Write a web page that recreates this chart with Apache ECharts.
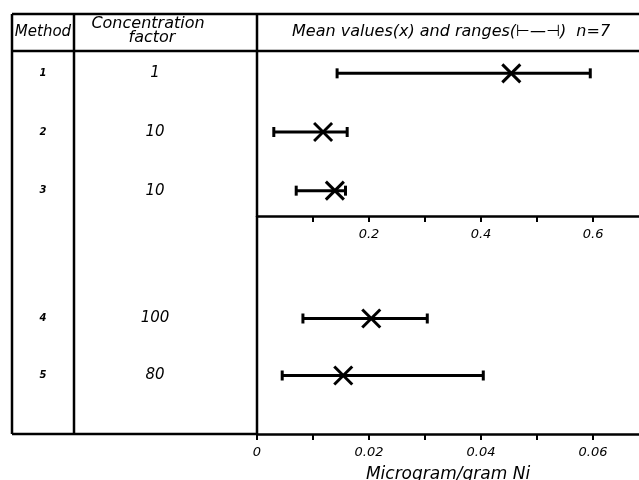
<!DOCTYPE html>
<html><head><meta charset="utf-8">
<script src="https://cdn.jsdelivr.net/npm/echarts@6/dist/echarts.min.js"></script>
<style>html,body{margin:0;padding:0;background:#fff}#c{width:639px;height:480px}</style>
</head><body><div id="c"></div>
<script>
const methods = ['1','2','3','4','5'];
const concFactors = ['1','10','10','100','80'];
const lowVals  = [0.143, 0.030, 0.070, 0.0082, 0.0045];
const highVals = [0.595, 0.161, 0.158, 0.0304, 0.0404];
const meanVals = [0.454, 0.118, 0.139, 0.0204, 0.0154];
const upperTickLabels = ['0.2','0.4','0.6'];
const lowerTickLabels = ['0','0.02','0.04','0.06'];
const headerMethod = 'Method';
const headerConc = ['Concentration','factor'];
const headerPlot = 'Mean values(x) and ranges(⊢—⊣)  n=7';
const axisTitle = 'Microgram/gram Ni';

const FONT = 'DejaVu Sans';
const upperIdx = [0,1,2], lowerIdx = [3,4];

function mkData(idx){ return idx.map(i => [lowVals[i], highVals[i], meanVals[i], methods[i]]); }

function renderItem(params, api){
  const cat = api.value(3);
  const pl = api.coord([api.value(0), cat]);
  const ph = api.coord([api.value(1), cat]);
  const pm = api.coord([api.value(2), cat]);
  const y = pl[1], cap = 5, m = 9;
  const st = {stroke:'#000', lineWidth:3};
  return {type:'group', children:[
    {type:'line', shape:{x1:pl[0],y1:y,x2:ph[0],y2:y}, style:st},
    {type:'line', shape:{x1:pl[0],y1:y-cap,x2:pl[0],y2:y+cap}, style:st},
    {type:'line', shape:{x1:ph[0],y1:y-cap,x2:ph[0],y2:y+cap}, style:st},
    {type:'line', shape:{x1:pm[0]-m,y1:y-m,x2:pm[0]+m,y2:y+m}, style:st},
    {type:'line', shape:{x1:pm[0]-m,y1:y+m,x2:pm[0]+m,y2:y-m}, style:st}
  ]};
}

const catAxisBase = {type:'category', position:'left', offset:0, inverse:true, axisLine:{show:false}, axisTick:{show:false}, splitLine:{show:false}};
function methodAxis(g, idx){
  return Object.assign({}, catAxisBase, {gridIndex:g, data: idx.map(i=>methods[i]),
    axisLabel:{margin:214, align:'center', fontFamily:FONT, fontStyle:'italic', fontWeight:'bold', fontSize:10, color:'#000', verticalAlign:'middle'}});
}
function concAxis(g, idx){
  return Object.assign({}, catAxisBase, {gridIndex:g, data: idx.map(i=>concFactors[i]),
    axisLabel:{margin:102, align:'center', fontFamily:FONT, fontStyle:'italic', fontSize:15, color:'#000', verticalAlign:'middle'}});
}

const chart = echarts.init(document.getElementById('c'), null, {renderer:'canvas'});
const tickStyle = {color:'#000', width:2};
chart.setOption({
  animation:false,
  grid:[
    {left:257, right:0, top:44, height:176, containLabel:false, outerBoundsMode:'none'},
    {left:257, right:0, top:290, height:114, containLabel:false, outerBoundsMode:'none'}
  ],
  xAxis:[
    {type:'value', gridIndex:0, min:0, max:0.682, interval:0.1, offset:-4,
     axisLine:{show:true, lineStyle:{color:'#000', width:2.5}},
     axisTick:{show:true, length:6, lineStyle:tickStyle},
     splitLine:{show:false},
     axisLabel:{showMaxLabel:false, margin:12, color:'#000', fontFamily:FONT, fontStyle:'italic', fontSize:13,
       formatter:v=>{const s=v.toFixed(1); return upperTickLabels.includes(s)?s:'';}}},
    {type:'value', gridIndex:1, min:0, max:0.0682, interval:0.01, offset:30,
     axisLine:{show:true, lineStyle:{color:'#000', width:2.5}},
     axisTick:{show:true, length:6, lineStyle:tickStyle},
     splitLine:{show:false},
     name:axisTitle, nameLocation:'middle', nameGap:32,
     nameTextStyle:{color:'#000', fontFamily:FONT, fontStyle:'italic', fontSize:17},
     axisLabel:{showMaxLabel:false, margin:12, color:'#000', fontFamily:FONT, fontStyle:'italic', fontSize:13,
       formatter:v=>{const s=v===0?'0':v.toFixed(2); return lowerTickLabels.includes(s)?s:'';}}}
  ],
  yAxis:[methodAxis(0, upperIdx), concAxis(0, upperIdx), methodAxis(1, lowerIdx), concAxis(1, lowerIdx)],
  series:[
    {type:'custom', xAxisIndex:0, yAxisIndex:0, renderItem, encode:{x:[0,1,2], y:3}, data:mkData(upperIdx)},
    {type:'custom', xAxisIndex:1, yAxisIndex:2, renderItem, encode:{x:[0,1,2], y:3}, data:mkData(lowerIdx)}
  ],
  graphic:[
    {type:'line', shape:{x1:12,y1:14,x2:639,y2:14}, style:{stroke:'#000', lineWidth:2.5}},
    {type:'line', shape:{x1:12,y1:51,x2:639,y2:51}, style:{stroke:'#000', lineWidth:2.5}},
    {type:'line', shape:{x1:12,y1:14,x2:12,y2:434}, style:{stroke:'#000', lineWidth:2.5}},
    {type:'line', shape:{x1:74,y1:14,x2:74,y2:434}, style:{stroke:'#000', lineWidth:2.5}},
    {type:'line', shape:{x1:257,y1:14,x2:257,y2:434}, style:{stroke:'#000', lineWidth:2.5}},
    {type:'line', shape:{x1:12,y1:434,x2:257,y2:434}, style:{stroke:'#000', lineWidth:2.5}},
    {type:'text', x:43, y:32, style:{text:headerMethod, fill:'#000', font:'italic 15px "DejaVu Sans"', textAlign:'center', textVerticalAlign:'middle'}},
    {type:'text', x:148, y:24, style:{text:headerConc[0], fill:'#000', font:'italic 16px "DejaVu Sans"', textAlign:'center', textVerticalAlign:'middle'}},
    {type:'text', x:152, y:38, style:{text:headerConc[1], fill:'#000', font:'italic 16px "DejaVu Sans"', textAlign:'center', textVerticalAlign:'middle'}},
    {type:'text', x:292, y:32, style:{text:headerPlot, fill:'#000', font:'italic 16px "DejaVu Sans"', textAlign:'left', textVerticalAlign:'middle'}}
  ]
});
</script></body></html>
